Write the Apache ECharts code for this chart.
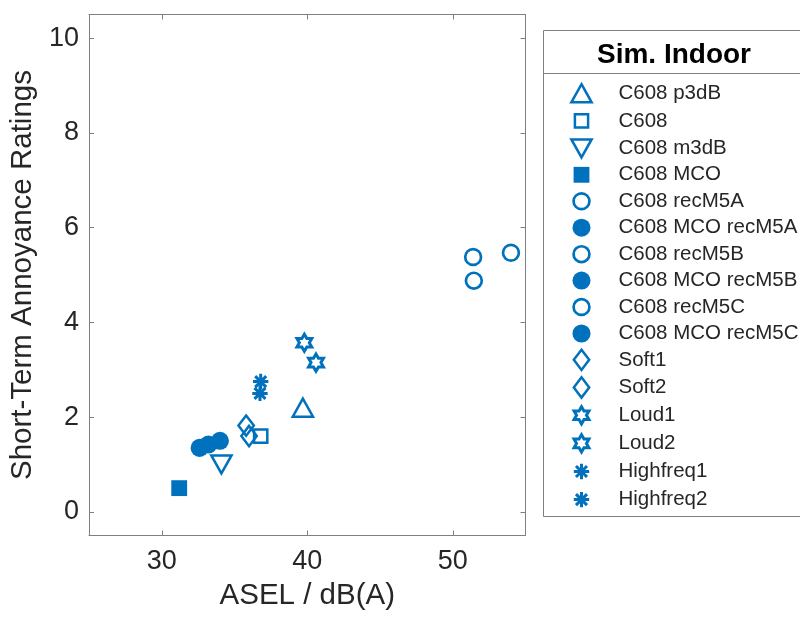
<!DOCTYPE html>
<html>
<head>
<meta charset="utf-8">
<script src="https://cdn.jsdelivr.net/npm/echarts@6/dist/echarts.min.js"></script>
<style>
html,body{margin:0;padding:0;background:#fff;}
#chart{width:800px;height:617px;}
</style>
</head>
<body>
<div id="chart"></div>
<script>
// ---- data ----
const seriesNames = ['C608 p3dB','C608','C608 m3dB','C608 MCO','C608 recM5A','C608 MCO recM5A','C608 recM5B','C608 MCO recM5B','C608 recM5C','C608 MCO recM5C','Soft1','Soft2','Loud1','Loud2','Highfreq1','Highfreq2'];
const aselValues   = [39.7, 36.8, 34.1, 31.2, 51.4, 32.6, 51.45, 33.2, 54.0, 34.0, 35.8, 36.0, 39.8, 40.6, 36.8, 36.75];
const ratingValues = [2.2, 1.6, 1.0, 0.5, 5.38, 1.35, 4.88, 1.42, 5.47, 1.5, 1.82, 1.6, 3.57, 3.15, 2.75, 2.5];
const xTicks = [30, 40, 50];
const yTicks = [0, 2, 4, 6, 8, 10];
const legendTitle = 'Sim. Indoor';

// ---- marker shapes (all in a 0..100 box) ----
const BOX = 'M0 0 M100 100 ';
const shapes = {
  triUp:   BOX + 'M50 9 L96 91 L4 91 Z',
  triDown: BOX + 'M4 9 L96 9 L50 91 Z',
  sqOpen:  BOX + 'M20 20 L80 20 L80 80 L20 80 Z',
  sqFill:  BOX + 'M14 14 L86 14 L86 86 L14 86 Z',
  circOpen:BOX + 'M14 50 A36 36 0 1 0 86 50 A36 36 0 1 0 14 50 Z',
  circFill:BOX + 'M9 50 A41 41 0 1 0 91 50 A41 41 0 1 0 9 50 Z',
  diamond: BOX + 'M50 4 L85 50 L50 96 L15 50 Z',
  hexagram:BOX + 'M50 11 L61.26 30.5 L83.77 30.5 L72.5 50 L83.77 69.5 L61.26 69.5 L50 89 L38.74 69.5 L16.23 69.5 L27.5 50 L16.23 30.5 L38.74 30.5 Z',
  asterisk:BOX + 'M50 15 L50 85 M15 50 L85 50 M25 25 L75 75 M75 25 L25 75'
};
const markerKind = ['triUp','sqOpen','triDown','sqFill','circOpen','circFill','circOpen','circFill','circOpen','circFill','diamond','diamond','hexagram','hexagram','asterisk','asterisk'];
const filledKinds = {sqFill:true, circFill:true};
const strokeWidth = {triUp:2.5, triDown:2.5, sqOpen:2.5, circOpen:2.7, diamond:2.5, hexagram:3, asterisk:3};

const BLUE = '#0072BD';
const FONT = '"Liberation Sans", Arial, Helvetica, sans-serif';

const series = seriesNames.map((name, i) => {
  const kind = markerKind[i];
  const filled = !!filledKinds[kind];
  return {
    name: name,
    type: 'scatter',
    data: [[aselValues[i], ratingValues[i]]],
    symbol: 'path://' + shapes[kind],
    symbolSize: 22,
    itemStyle: filled
      ? {color: BLUE, borderColor: BLUE, borderWidth: 0, opacity: 1}
      : {color: 'rgba(0,0,0,0)', borderColor: BLUE, borderWidth: strokeWidth[kind], opacity: 1},
    emphasis: {disabled: true}
  };
});

const legendData = seriesNames.map((name, i) => {
  const kind = markerKind[i];
  return filledKinds[kind] ? {name: name} : {name: name, itemStyle: {borderWidth: strokeWidth[kind]}};
});

const axisLineStyle = {color: '#808080', width: 1};

const option = {
  animation: false,
  backgroundColor: '#fff',
  textStyle: {fontFamily: FONT},
  grid: {left: 88, top: 14.5, width: 437.5, height: 521, containLabel: false},
  xAxis: [{
    type: 'value', min: 25, max: 55, position: 'bottom',
    axisLine: {show: true, onZero: false, lineStyle: axisLineStyle},
    axisTick: {show: true, inside: true, length: 5, customValues: xTicks, lineStyle: axisLineStyle},
    axisLabel: {customValues: xTicks, fontSize: 27, color: '#262626', margin: 13, fontFamily: FONT},
    splitLine: {show: false},
    name: 'ASEL / dB(A)', nameLocation: 'middle', nameGap: 44,
    nameTextStyle: {fontSize: 29.5, color: '#262626', fontFamily: FONT}
  }, {
    type: 'value', min: 25, max: 55, position: 'top',
    axisLine: {show: true, onZero: false, lineStyle: axisLineStyle},
    axisTick: {show: true, inside: true, length: 5, customValues: xTicks, lineStyle: axisLineStyle},
    axisLabel: {show: false},
    splitLine: {show: false}
  }],
  yAxis: [{
    type: 'value', min: -0.5, max: 10.5, position: 'left',
    axisLine: {show: true, onZero: false, lineStyle: axisLineStyle},
    axisTick: {show: true, inside: true, length: 5, customValues: yTicks, lineStyle: axisLineStyle},
    axisLabel: {customValues: yTicks, fontSize: 27, color: '#262626', margin: 10, fontFamily: FONT},
    splitLine: {show: false},
    name: 'Short-Term Annoyance Ratings', nameLocation: 'middle', nameGap: 51, nameRotate: 90,
    nameTextStyle: {fontSize: 29.5, color: '#262626', fontFamily: FONT}
  }, {
    type: 'value', min: -0.5, max: 10.5, position: 'right',
    axisLine: {show: true, onZero: false, lineStyle: axisLineStyle},
    axisTick: {show: true, inside: true, length: 5, customValues: yTicks, lineStyle: axisLineStyle},
    axisLabel: {show: false},
    splitLine: {show: false}
  }],
  legend: {
    orient: 'vertical',
    left: 569, top: 81,
    padding: 0,
    itemWidth: 64, itemHeight: 22, itemGap: 3.1,
    selectedMode: false,
    data: legendData,
    textStyle: {fontSize: 20.5, color: '#262626', fontFamily: FONT}
  },
  graphic: [
    {type: 'rect', z: 0, shape: {x: 543.5, y: 30.5, width: 262, height: 486},
     style: {fill: '#fff', stroke: '#808080', lineWidth: 1}},
    {type: 'line', z: 1, shape: {x1: 543.5, y1: 73.5, x2: 806, y2: 73.5},
     style: {stroke: '#808080', lineWidth: 1}},
    {type: 'text', z: 1, x: 674, y: 55,
     style: {text: legendTitle, font: 'bold 28px ' + FONT, fill: '#000',
             align: 'center', verticalAlign: 'middle', textAlign: 'center', textVerticalAlign: 'middle'}}
  ],
  series: series
};

const chart = echarts.init(document.getElementById('chart'), null, {renderer: 'canvas'});
chart.setOption(option);
</script>
</body>
</html>
